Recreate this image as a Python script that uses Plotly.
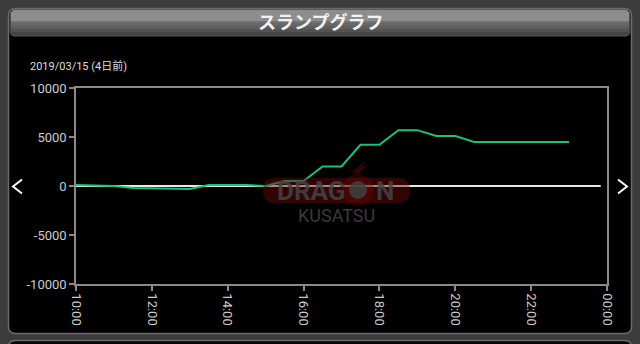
import plotly.graph_objects as go

# ---------------- data ----------------
times = ["10:00", "10:30", "11:00", "11:30", "12:00", "12:30", "13:00", "13:30",
         "14:00", "14:30", "15:00", "15:30", "16:00", "16:30", "17:00", "17:30",
         "18:00", "18:30", "19:00", "19:30", "20:00", "20:30", "21:00", "21:30",
         "22:00", "22:30", "23:00"]
values = [100, 50, 0, -200, -250, -300, -300, 100,
          100, 100, 0, 500, 500, 2000, 2000, 4200,
          4200, 5700, 5700, 5100, 5100, 4500, 4500, 4500,
          4500, 4500, 4500]
zero_times = ["10:00", "23:50"]
zero_values = [0, 0]
x_tick_hours = [10, 12, 14, 16, 18, 20, 22, 24]
x_tick_labels = ["10:00", "12:00", "14:00", "16:00", "18:00", "20:00", "22:00", "00:00"]
y_ticks = [-10000, -5000, 0, 5000, 10000]
title_text = "スランプグラフ"
date_text = "2019/03/15 (4日前)"


def to_hours(t):
    h, m = t.split(":")
    return int(h) + int(m) / 60.0


W, H = 640, 344


def px(x):
    return x / W


def py(y):
    return 1 - y / H


def rrect(x0, y0, x1, y1, r):
    """rounded rect path in paper coords from pixel coords"""
    pts = [
        ("M", x0 + r, y0), ("L", x1 - r, y0), ("Q", x1, y0, x1, y0 + r),
        ("L", x1, y1 - r), ("Q", x1, y1, x1 - r, y1), ("L", x0 + r, y1),
        ("Q", x0, y1, x0, y1 - r), ("L", x0, y0 + r), ("Q", x0, y0, x0 + r, y0),
    ]
    s = ""
    for p in pts:
        if p[0] == "Q":
            s += f"Q{px(p[1])},{py(p[2])} {px(p[3])},{py(p[4])} "
        else:
            s += f"{p[0]}{px(p[1])},{py(p[2])} "
    return s + "Z"


fig = go.Figure()

fig.add_trace(go.Scatter(
    x=[to_hours(t) for t in zero_times], y=zero_values, mode="lines",
    line=dict(color="#e8e8e8", width=2), hoverinfo="skip", showlegend=False))
fig.add_trace(go.Scatter(
    x=[to_hours(t) for t in times], y=values, mode="lines",
    line=dict(color="#18c27a", width=2), showlegend=False))

shapes = []
# main panel
shapes.append(dict(type="path", xref="paper", yref="paper", layer="below",
                   path=rrect(8.5, 8.5, 631.5, 333.5, 7),
                   fillcolor="#000000", line=dict(color="#6a6a6a", width=1.5)))
# next panel edge at bottom
shapes.append(dict(type="path", xref="paper", yref="paper", layer="below",
                   path=rrect(8.5, 340.5, 631.5, 380, 7),
                   fillcolor="#050505", line=dict(color="#6a6a6a", width=1.5)))
# title bar gradient bands
bands = [(10, 21, "#8d8d8d"), (21, 23, "#717171"), (23, 26, "#676767"),
         (26, 29, "#5d5d5d"), (29, 32, "#525252"), (32, 36, "#444444")]
for y0, y1, c in bands:
    shapes.append(dict(type="rect", xref="paper", yref="paper", layer="below",
                       x0=px(12), x1=px(628), y0=py(y1), y1=py(y0),
                       fillcolor=c, line=dict(width=0)))
for y0, y1, c in bands:
    for xa, xb in ((10.5, 12), (628, 629.5)):
        yy0 = max(y0, 12)
        yy1 = min(y1, 34)
        if yy1 > yy0:
            shapes.append(dict(type="rect", xref="paper", yref="paper", layer="below",
                               x0=px(xa), x1=px(xb), y0=py(yy1), y1=py(yy0),
                               fillcolor=c, line=dict(width=0)))
shapes.append(dict(type="path", xref="paper", yref="paper", layer="below",
                   path=rrect(10, 9.5, 630, 36, 5),
                   fillcolor="rgba(0,0,0,0)", line=dict(color="#5a5a5a", width=1)))
# arrows
shapes.append(dict(type="path", xref="paper", yref="paper", layer="above",
                   path=f"M{px(22)},{py(179.5)} L{px(13)},{py(186.5)} L{px(22)},{py(193.5)}",
                   line=dict(color="#ffffff", width=2)))
shapes.append(dict(type="path", xref="paper", yref="paper", layer="above",
                   path=f"M{px(618)},{py(179.5)} L{px(627)},{py(186.5)} L{px(618)},{py(193.5)}",
                   line=dict(color="#ffffff", width=2)))
# watermark
shapes.append(dict(type="path", xref="paper", yref="paper", layer="above",
                   path=rrect(263, 178, 410, 203, 12),
                   fillcolor="rgba(110,10,10,0.45)", line=dict(width=0)))
shapes.append(dict(type="circle", xref="paper", yref="paper", layer="above",
                   x0=px(342), x1=px(374), y0=py(206), y1=py(174),
                   fillcolor="rgba(110,10,10,0.35)", line=dict(width=0)))
shapes.append(dict(type="circle", xref="paper", yref="paper", layer="above",
                   x0=px(349), x1=px(367), y0=py(199), y1=py(181),
                   fillcolor="rgba(65,65,65,0.85)", line=dict(width=0)))
shapes.append(dict(type="path", xref="paper", yref="paper", layer="above",
                   path=(f"M{px(352)},{py(172)} L{px(366)},{py(160)} L{px(362)},{py(167)} "
                         f"L{px(368)},{py(166)} L{px(358)},{py(174)} Z"),
                   fillcolor="rgba(110,10,10,0.45)", line=dict(width=0)))

annotations = [
    dict(text="<b>" + title_text + "</b>", x=px(320), y=py(21), xref="paper", yref="paper",
         showarrow=False, xanchor="center", yanchor="middle",
         font=dict(family="Noto Sans CJK JP", size=18, color="#f2f2f2")),
    dict(text=date_text, x=px(28), y=py(66), xref="paper", yref="paper",
         showarrow=False, xanchor="left", yanchor="middle",
         font=dict(family="Roboto, Noto Sans CJK JP", size=11, color="#dddddd")),
    dict(text="<b>DRAG</b>", x=px(311.5), y=py(191), xref="paper", yref="paper",
         showarrow=False, xanchor="center", yanchor="middle",
         font=dict(family="Roboto", size=26, color="rgba(68,68,68,0.85)")),
    dict(text="<b>N</b>", x=px(385), y=py(191), xref="paper", yref="paper",
         showarrow=False, xanchor="center", yanchor="middle",
         font=dict(family="Roboto", size=26, color="rgba(68,68,68,0.85)")),
    dict(text="KUSATSU", x=px(336), y=py(215), xref="paper", yref="paper",
         showarrow=False, xanchor="center", yanchor="middle",
         font=dict(family="Roboto", size=18, color="rgba(62,62,62,0.95)")),
]

fig.update_layout(
    width=W, height=H, autosize=False,
    margin=dict(l=0, r=0, t=0, b=0, pad=0, autoexpand=False),
    paper_bgcolor="#3c3c3c", plot_bgcolor="rgba(0,0,0,0)",
    shapes=shapes, annotations=annotations, showlegend=False,
    xaxis=dict(domain=[76 / W, 607 / W], range=[10, 24],
               tickvals=x_tick_hours, ticktext=x_tick_labels, tickangle=90,
               ticks="outside", ticklen=5, tickwidth=1.5, tickcolor="#8a8a8a",
               showline=True, linecolor="#8a8a8a", linewidth=1.5, mirror=True,
               showgrid=False, zeroline=False, fixedrange=True, automargin=False,
               tickfont=dict(family="Roboto", size=13, color="#cccccc")),
    yaxis=dict(domain=[1 - 284 / H, 1 - 88 / H], range=[-10000, 10000],
               tickvals=y_ticks, ticktext=[str(v) for v in y_ticks],
               ticks="outside", ticklen=5, tickwidth=1.5, tickcolor="#8a8a8a",
               showline=True, linecolor="#8a8a8a", linewidth=1.5, mirror=True,
               showgrid=False, zeroline=False, fixedrange=True, automargin=False,
               tickfont=dict(family="Roboto", size=13, color="#cccccc")),
)

fig.write_html("out.html")
